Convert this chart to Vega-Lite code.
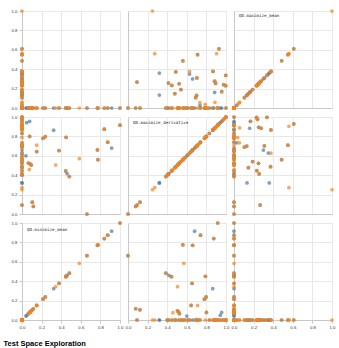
{
  "$schema": "https://vega.github.io/schema/vega-lite/v6.json",
  "padding": {"left": 3, "top": 8, "right": 5, "bottom": 2},
  "title": {"text": "Test Space Exploration", "orient": "bottom", "anchor": "start", "fontSize": 7.5, "fontWeight": "bold", "font": "Liberation Sans", "offset": 10, "dx": -7, "color": "#000"},
  "config": {
    "view": {"stroke": "#c8c8c8"},
    "axis": {"labelFontSize": 4.3, "labelColor": "#333", "tickSize": 3, "tickColor": "#c8c8c8", "domainColor": "#c8c8c8", "gridColor": "#e8e8e8", "title": null, "labelPadding": 2, "tickCount": 5, "labelFlush": false, "format": ".1f", "minExtent": 0}
  },
  "datasets": {
    "pts": [
      {"maximize_mean": 0, "maximize_derivative": 0.915, "minimize_mean": 1.0, "s": "a"},
      {"maximize_mean": 0, "maximize_derivative": 0.68, "minimize_mean": 0.915, "s": "a"},
      {"maximize_mean": 0, "maximize_derivative": 0.74, "minimize_mean": 0.875, "s": "a"},
      {"maximize_mean": 0, "maximize_derivative": 0.875, "minimize_mean": 0.84, "s": "a"},
      {"maximize_mean": 0, "maximize_derivative": 0.66, "minimize_mean": 0.77, "s": "a"},
      {"maximize_mean": 0, "maximize_derivative": 0.56, "minimize_mean": 0.775, "s": "a"},
      {"maximize_mean": 0, "maximize_derivative": 0.0, "minimize_mean": 0.663, "s": "a"},
      {"maximize_mean": 0, "maximize_derivative": 0.386, "minimize_mean": 0.483, "s": "a"},
      {"maximize_mean": 0, "maximize_derivative": 0.417, "minimize_mean": 0.46, "s": "a"},
      {"maximize_mean": 0, "maximize_derivative": 0.444, "minimize_mean": 0.446, "s": "a"},
      {"maximize_mean": 0, "maximize_derivative": 0.79, "minimize_mean": 0.45, "s": "a"},
      {"maximize_mean": 0, "maximize_derivative": 0.654, "minimize_mean": 0.378, "s": "a"},
      {"maximize_mean": 0, "maximize_derivative": 0.864, "minimize_mean": 0.323, "s": "a"},
      {"maximize_mean": 0, "maximize_derivative": 0.797, "minimize_mean": 0.238, "s": "a"},
      {"maximize_mean": 0, "maximize_derivative": 0.78, "minimize_mean": 0.214, "s": "a"},
      {"maximize_mean": 0, "maximize_derivative": 0.644, "minimize_mean": 0.15, "s": "a"},
      {"maximize_mean": 0, "maximize_derivative": 0.078, "minimize_mean": 0.116, "s": "a"},
      {"maximize_mean": 0, "maximize_derivative": 0.122, "minimize_mean": 0.105, "s": "a"},
      {"maximize_mean": 0, "maximize_derivative": 0.505, "minimize_mean": 0.095, "s": "a"},
      {"maximize_mean": 0, "maximize_derivative": 0.515, "minimize_mean": 0.085, "s": "a"},
      {"maximize_mean": 0, "maximize_derivative": 0.525, "minimize_mean": 0.065, "s": "a"},
      {"maximize_mean": 0, "maximize_derivative": 0.8, "minimize_mean": 0.078, "s": "a"},
      {"maximize_mean": 0, "maximize_derivative": 0.956, "minimize_mean": 0.078, "s": "a"},
      {"maximize_mean": 0, "maximize_derivative": 0.942, "minimize_mean": 0.048, "s": "a"},
      {"maximize_mean": 0, "maximize_derivative": 0.6, "minimize_mean": 0.04, "s": "a"},
      {"maximize_mean": 0.55, "maximize_derivative": 0.71, "minimize_mean": 0, "s": "a"},
      {"maximize_mean": 0.61, "maximize_derivative": 0.928, "minimize_mean": 0, "s": "a"},
      {"maximize_mean": 0.486, "maximize_derivative": 0.56, "minimize_mean": 0, "s": "a"},
      {"maximize_mean": 0.36, "maximize_derivative": 0.32, "minimize_mean": 0, "s": "a"},
      {"maximize_mean": 0.373, "maximize_derivative": 0.488, "minimize_mean": 0, "s": "a"},
      {"maximize_mean": 0.35, "maximize_derivative": 0.628, "minimize_mean": 0, "s": "a"},
      {"maximize_mean": 0.377, "maximize_derivative": 0.867, "minimize_mean": 0, "s": "a"},
      {"maximize_mean": 0.336, "maximize_derivative": 0.997, "minimize_mean": 0, "s": "a"},
      {"maximize_mean": 0.267, "maximize_derivative": 0.092, "minimize_mean": 0, "s": "a"},
      {"maximize_mean": 0.257, "maximize_derivative": 0.413, "minimize_mean": 0, "s": "a"},
      {"maximize_mean": 0.233, "maximize_derivative": 0.447, "minimize_mean": 0, "s": "a"},
      {"maximize_mean": 0.25, "maximize_derivative": 0.522, "minimize_mean": 0, "s": "a"},
      {"maximize_mean": 0.3, "maximize_derivative": 0.659, "minimize_mean": 0, "s": "a"},
      {"maximize_mean": 0.31, "maximize_derivative": 0.703, "minimize_mean": 0, "s": "a"},
      {"maximize_mean": 0.277, "maximize_derivative": 0.884, "minimize_mean": 0, "s": "a"},
      {"maximize_mean": 0.253, "maximize_derivative": 0.894, "minimize_mean": 0, "s": "a"},
      {"maximize_mean": 0.24, "maximize_derivative": 0.976, "minimize_mean": 0, "s": "a"},
      {"maximize_mean": 0.23, "maximize_derivative": 0.997, "minimize_mean": 0, "s": "a"},
      {"maximize_mean": 0.19, "maximize_derivative": 0.54, "minimize_mean": 0, "s": "a"},
      {"maximize_mean": 0.147, "maximize_derivative": 0.478, "minimize_mean": 0, "s": "a"},
      {"maximize_mean": 0.168, "maximize_derivative": 0.956, "minimize_mean": 0, "s": "a"},
      {"maximize_mean": 0.16, "maximize_derivative": 0.884, "minimize_mean": 0, "s": "a"},
      {"maximize_mean": 0.133, "maximize_derivative": 0.32, "minimize_mean": 0, "s": "a"},
      {"maximize_mean": 0.13, "maximize_derivative": 0.7, "minimize_mean": 0, "s": "a"},
      {"maximize_mean": 0.106, "maximize_derivative": 0.69, "minimize_mean": 0, "s": "a"},
      {"maximize_mean": 0.027, "maximize_derivative": 0.734, "minimize_mean": 0, "s": "a"},
      {"maximize_mean": 0, "maximize_derivative": 0.4, "minimize_mean": 0, "s": "a"},
      {"maximize_mean": 0, "maximize_derivative": 0.58, "minimize_mean": 0, "s": "a"},
      {"maximize_mean": 0, "maximize_derivative": 0.61, "minimize_mean": 0, "s": "a"},
      {"maximize_mean": 0, "maximize_derivative": 0.83, "minimize_mean": 0, "s": "a"},
      {"maximize_mean": 0, "maximize_derivative": 0.915, "minimize_mean": 0, "s": "a"},
      {"maximize_mean": 0, "maximize_derivative": 1.0, "minimize_mean": 0, "s": "a"},
      {"maximize_mean": 0, "maximize_derivative": 0.915, "minimize_mean": 1.0, "s": "b"},
      {"maximize_mean": 0, "maximize_derivative": 0.74, "minimize_mean": 0.875, "s": "b"},
      {"maximize_mean": 0, "maximize_derivative": 0.875, "minimize_mean": 0.84, "s": "b"},
      {"maximize_mean": 0, "maximize_derivative": 0.66, "minimize_mean": 0.77, "s": "b"},
      {"maximize_mean": 0, "maximize_derivative": 0.56, "minimize_mean": 0.775, "s": "b"},
      {"maximize_mean": 0, "maximize_derivative": 0.57, "minimize_mean": 0.585, "s": "b"},
      {"maximize_mean": 0, "maximize_derivative": 0.0, "minimize_mean": 0.663, "s": "b"},
      {"maximize_mean": 0, "maximize_derivative": 0.386, "minimize_mean": 0.483, "s": "b"},
      {"maximize_mean": 0, "maximize_derivative": 0.444, "minimize_mean": 0.446, "s": "b"},
      {"maximize_mean": 0, "maximize_derivative": 0.79, "minimize_mean": 0.45, "s": "b"},
      {"maximize_mean": 0, "maximize_derivative": 0.654, "minimize_mean": 0.378, "s": "b"},
      {"maximize_mean": 0, "maximize_derivative": 0.505, "minimize_mean": 0.344, "s": "b"},
      {"maximize_mean": 0, "maximize_derivative": 0.797, "minimize_mean": 0.238, "s": "b"},
      {"maximize_mean": 0, "maximize_derivative": 0.78, "minimize_mean": 0.214, "s": "b"},
      {"maximize_mean": 0, "maximize_derivative": 0.644, "minimize_mean": 0.15, "s": "b"},
      {"maximize_mean": 0, "maximize_derivative": 0.71, "minimize_mean": 0.15, "s": "b"},
      {"maximize_mean": 0, "maximize_derivative": 0.078, "minimize_mean": 0.116, "s": "b"},
      {"maximize_mean": 0, "maximize_derivative": 0.122, "minimize_mean": 0.105, "s": "b"},
      {"maximize_mean": 0, "maximize_derivative": 0.505, "minimize_mean": 0.095, "s": "b"},
      {"maximize_mean": 0, "maximize_derivative": 0.515, "minimize_mean": 0.085, "s": "b"},
      {"maximize_mean": 0, "maximize_derivative": 0.458, "minimize_mean": 0.075, "s": "b"},
      {"maximize_mean": 0, "maximize_derivative": 0.525, "minimize_mean": 0.065, "s": "b"},
      {"maximize_mean": 0, "maximize_derivative": 0.8, "minimize_mean": 0.078, "s": "b"},
      {"maximize_mean": 1.0, "maximize_derivative": 0.25, "minimize_mean": 0, "s": "b"},
      {"maximize_mean": 0.56, "maximize_derivative": 0.273, "minimize_mean": 0, "s": "b"},
      {"maximize_mean": 0.55, "maximize_derivative": 0.71, "minimize_mean": 0, "s": "b"},
      {"maximize_mean": 0.56, "maximize_derivative": 0.904, "minimize_mean": 0, "s": "b"},
      {"maximize_mean": 0.61, "maximize_derivative": 0.928, "minimize_mean": 0, "s": "b"},
      {"maximize_mean": 0.486, "maximize_derivative": 0.56, "minimize_mean": 0, "s": "b"},
      {"maximize_mean": 0.373, "maximize_derivative": 0.488, "minimize_mean": 0, "s": "b"},
      {"maximize_mean": 0.377, "maximize_derivative": 0.628, "minimize_mean": 0, "s": "b"},
      {"maximize_mean": 0.377, "maximize_derivative": 0.867, "minimize_mean": 0, "s": "b"},
      {"maximize_mean": 0.336, "maximize_derivative": 0.997, "minimize_mean": 0, "s": "b"},
      {"maximize_mean": 0.267, "maximize_derivative": 0.092, "minimize_mean": 0, "s": "b"},
      {"maximize_mean": 0.257, "maximize_derivative": 0.413, "minimize_mean": 0, "s": "b"},
      {"maximize_mean": 0.233, "maximize_derivative": 0.447, "minimize_mean": 0, "s": "b"},
      {"maximize_mean": 0.25, "maximize_derivative": 0.522, "minimize_mean": 0, "s": "b"},
      {"maximize_mean": 0.31, "maximize_derivative": 0.703, "minimize_mean": 0, "s": "b"},
      {"maximize_mean": 0.277, "maximize_derivative": 0.884, "minimize_mean": 0, "s": "b"},
      {"maximize_mean": 0.253, "maximize_derivative": 0.894, "minimize_mean": 0, "s": "b"},
      {"maximize_mean": 0.24, "maximize_derivative": 0.976, "minimize_mean": 0, "s": "b"},
      {"maximize_mean": 0.23, "maximize_derivative": 0.997, "minimize_mean": 0, "s": "b"},
      {"maximize_mean": 0.19, "maximize_derivative": 0.54, "minimize_mean": 0, "s": "b"},
      {"maximize_mean": 0.147, "maximize_derivative": 0.478, "minimize_mean": 0, "s": "b"},
      {"maximize_mean": 0.168, "maximize_derivative": 0.956, "minimize_mean": 0, "s": "b"},
      {"maximize_mean": 0.13, "maximize_derivative": 0.7, "minimize_mean": 0, "s": "b"},
      {"maximize_mean": 0.106, "maximize_derivative": 0.69, "minimize_mean": 0, "s": "b"},
      {"maximize_mean": 0.055, "maximize_derivative": 0.734, "minimize_mean": 0, "s": "b"},
      {"maximize_mean": 0.038, "maximize_derivative": 0.788, "minimize_mean": 0, "s": "b"},
      {"maximize_mean": 0.058, "maximize_derivative": 0.887, "minimize_mean": 0, "s": "b"},
      {"maximize_mean": 0, "maximize_derivative": 0.4, "minimize_mean": 0, "s": "b"},
      {"maximize_mean": 0, "maximize_derivative": 0.58, "minimize_mean": 0, "s": "b"},
      {"maximize_mean": 0, "maximize_derivative": 0.61, "minimize_mean": 0, "s": "b"},
      {"maximize_mean": 0, "maximize_derivative": 0.83, "minimize_mean": 0, "s": "b"},
      {"maximize_mean": 0, "maximize_derivative": 0.915, "minimize_mean": 0, "s": "b"},
      {"maximize_mean": 0, "maximize_derivative": 1.0, "minimize_mean": 0, "s": "b"}
    ],
    "lab1": [{"label": "QD.maximize_mean"}],
    "lab2": [{"label": "QD.maximize_derivative"}],
    "lab3": [{"label": "QD.minimize_mean"}]
  },
  "data": {"name": "pts"},
  "columns": 3,
  "bounds": "flush",
  "spacing": {"row": 9, "column": 8},
  "concat": [
    {"width": 98, "height": 97, "mark": {"type": "circle", "size": 14, "opacity": 0.7},
     "encoding": {
       "x": {"field": "minimize_mean", "type": "quantitative", "scale": {"domain": [0, 1], "nice": false}, "axis": {"labels": false, "ticks": false}},
       "y": {"field": "maximize_mean", "type": "quantitative", "scale": {"domain": [0, 1], "nice": false}, "axis": {}},
       "color": {"field": "s", "type": "nominal", "scale": {"domain": ["a", "b"], "range": ["#4c78a8", "#f58518"]}, "legend": null}}},
    {"width": 98, "height": 97, "mark": {"type": "circle", "size": 14, "opacity": 0.7},
     "encoding": {
       "x": {"field": "maximize_derivative", "type": "quantitative", "scale": {"domain": [0, 1], "nice": false}, "axis": {"labels": false, "ticks": false}},
       "y": {"field": "maximize_mean", "type": "quantitative", "scale": {"domain": [0, 1], "nice": false}, "axis": {"labels": false, "ticks": false}},
       "color": {"field": "s", "type": "nominal", "scale": {"domain": ["a", "b"], "range": ["#4c78a8", "#f58518"]}, "legend": null}}},
    {"width": 98, "height": 97,
     "layer": [
       {"mark": {"type": "circle", "size": 14, "opacity": 0.7},
        "encoding": {
          "x": {"field": "maximize_mean", "type": "quantitative", "scale": {"domain": [0, 1], "nice": false}, "axis": {"labels": false, "ticks": false}},
          "y": {"field": "maximize_mean", "type": "quantitative", "scale": {"domain": [0, 1], "nice": false}, "axis": {"labels": false, "ticks": false}},
          "color": {"field": "s", "type": "nominal", "scale": {"domain": ["a", "b"], "range": ["#4c78a8", "#f58518"]}, "legend": null}}},
       {"data": {"name": "lab1"}, "mark": {"type": "text", "align": "left", "baseline": "middle", "font": "DejaVu Sans Mono", "fontSize": 4.2, "color": "#222"},
        "encoding": {
          "x": {"datum": 0.05, "type": "quantitative", "axis": {"labels": false, "ticks": false}},
          "y": {"datum": 0.95, "type": "quantitative", "axis": {"labels": false, "ticks": false}},
          "text": {"field": "label"}}}
     ]},
    {"width": 98, "height": 97, "mark": {"type": "circle", "size": 14, "opacity": 0.7},
     "encoding": {
       "x": {"field": "minimize_mean", "type": "quantitative", "scale": {"domain": [0, 1], "nice": false}, "axis": {"labels": false, "ticks": false}},
       "y": {"field": "maximize_derivative", "type": "quantitative", "scale": {"domain": [0, 1], "nice": false}, "axis": {}},
       "color": {"field": "s", "type": "nominal", "scale": {"domain": ["a", "b"], "range": ["#4c78a8", "#f58518"]}, "legend": null}}},
    {"width": 98, "height": 97,
     "layer": [
       {"mark": {"type": "circle", "size": 14, "opacity": 0.7},
        "encoding": {
          "x": {"field": "maximize_derivative", "type": "quantitative", "scale": {"domain": [0, 1], "nice": false}, "axis": {"labels": false, "ticks": false}},
          "y": {"field": "maximize_derivative", "type": "quantitative", "scale": {"domain": [0, 1], "nice": false}, "axis": {"labels": false, "ticks": false}},
          "color": {"field": "s", "type": "nominal", "scale": {"domain": ["a", "b"], "range": ["#4c78a8", "#f58518"]}, "legend": null}}},
       {"data": {"name": "lab2"}, "mark": {"type": "text", "align": "left", "baseline": "middle", "font": "DejaVu Sans Mono", "fontSize": 4.2, "color": "#222"},
        "encoding": {
          "x": {"datum": 0.05, "type": "quantitative", "axis": {"labels": false, "ticks": false}},
          "y": {"datum": 0.94, "type": "quantitative", "axis": {"labels": false, "ticks": false}},
          "text": {"field": "label"}}}
     ]},
    {"width": 98, "height": 97, "mark": {"type": "circle", "size": 14, "opacity": 0.7},
     "encoding": {
       "x": {"field": "maximize_mean", "type": "quantitative", "scale": {"domain": [0, 1], "nice": false}, "axis": {"labels": false, "ticks": false}},
       "y": {"field": "maximize_derivative", "type": "quantitative", "scale": {"domain": [0, 1], "nice": false}, "axis": {"labels": false, "ticks": false}},
       "color": {"field": "s", "type": "nominal", "scale": {"domain": ["a", "b"], "range": ["#4c78a8", "#f58518"]}, "legend": null}}},
    {"width": 98, "height": 97,
     "layer": [
       {"mark": {"type": "circle", "size": 14, "opacity": 0.7},
        "encoding": {
          "x": {"field": "minimize_mean", "type": "quantitative", "scale": {"domain": [0, 1], "nice": false}, "axis": {}},
          "y": {"field": "minimize_mean", "type": "quantitative", "scale": {"domain": [0, 1], "nice": false}, "axis": {}},
          "color": {"field": "s", "type": "nominal", "scale": {"domain": ["a", "b"], "range": ["#4c78a8", "#f58518"]}, "legend": null}}},
       {"data": {"name": "lab3"}, "mark": {"type": "text", "align": "left", "baseline": "middle", "font": "DejaVu Sans Mono", "fontSize": 4.2, "color": "#222"},
        "encoding": {
          "x": {"datum": 0.05, "type": "quantitative", "axis": {}},
          "y": {"datum": 0.93, "type": "quantitative", "axis": {}},
          "text": {"field": "label"}}}
     ]},
    {"width": 98, "height": 97, "mark": {"type": "circle", "size": 14, "opacity": 0.7},
     "encoding": {
       "x": {"field": "maximize_derivative", "type": "quantitative", "scale": {"domain": [0, 1], "nice": false}, "axis": {}},
       "y": {"field": "minimize_mean", "type": "quantitative", "scale": {"domain": [0, 1], "nice": false}, "axis": {"labels": false, "ticks": false}},
       "color": {"field": "s", "type": "nominal", "scale": {"domain": ["a", "b"], "range": ["#4c78a8", "#f58518"]}, "legend": null}}},
    {"width": 98, "height": 97, "mark": {"type": "circle", "size": 14, "opacity": 0.7},
     "encoding": {
       "x": {"field": "maximize_mean", "type": "quantitative", "scale": {"domain": [0, 1], "nice": false}, "axis": {}},
       "y": {"field": "minimize_mean", "type": "quantitative", "scale": {"domain": [0, 1], "nice": false}, "axis": {"labels": false, "ticks": false}},
       "color": {"field": "s", "type": "nominal", "scale": {"domain": ["a", "b"], "range": ["#4c78a8", "#f58518"]}, "legend": null}}}
  ]
}
